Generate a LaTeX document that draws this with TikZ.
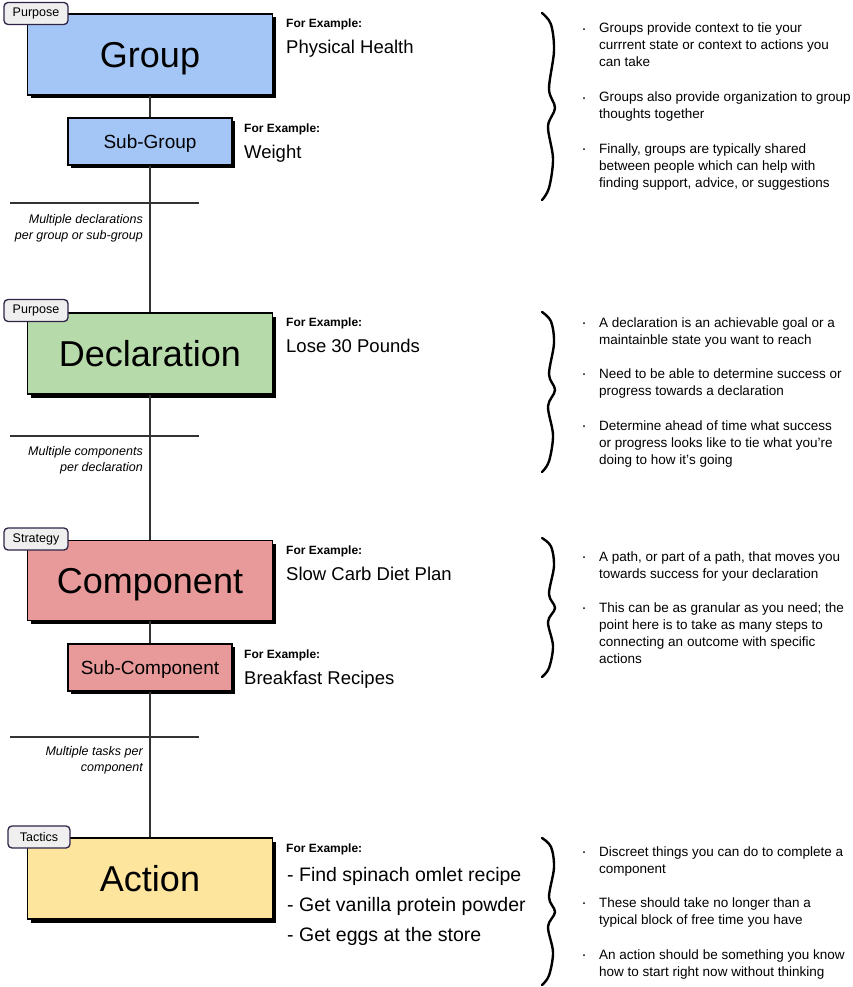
\documentclass[tikz,border=0pt]{standalone}
\usepackage{fontspec}
\setmainfont{Liberation Sans}
\usetikzlibrary{shadows}
\definecolor{cgroup}{HTML}{A4C6F6}
\definecolor{cdecl}{HTML}{B7DAAA}
\definecolor{ccomp}{HTML}{E89A9A}
\definecolor{cact}{HTML}{FDE59D}
\definecolor{tagfill}{HTML}{EFEFEF}
\definecolor{tagline}{HTML}{2F2346}
\definecolor{conn}{HTML}{333333}
\newcommand\mybrace[3]{%
 \pgfmathsetmacro\brA{#2-#1}\pgfmathsetmacro\brB{#3-#2}%
 \draw[bracel] plot[smooth,tension=0.55] coordinates {(542,#1) (551,{#1+0.12*\brA}) (554,{#1+0.4*\brA}) (549,{#1+0.8*\brA}) (555,#2) (548,{#2+0.2*\brB}) (553,{#2+0.55*\brB}) (549,{#2+0.87*\brB}) (542,#3)};}
% name, first baseline, number of lines, text
\newcommand\mybul[4]{%
 \fill (584,#2-3.8) circle (1);
 \node[bt, anchor=base west] (#1) at (599,{#2+(#3-1)*17}) {#4};}
\begin{document}
\begin{tikzpicture}[x=1pt,y=-1pt,
  bigbox/.style={draw=black, line width=1.8pt, minimum width=245pt, minimum height=81pt, inner sep=0pt,
    drop shadow={shadow xshift=3.5pt, shadow yshift=-3.5pt, fill=black, opacity=1},
    font=\fontsize{36}{40}\selectfont, text height=25.8pt, text depth=0pt},
  smallbox/.style={draw=black, line width=1.6pt, minimum width=164pt, minimum height=47pt, inner sep=0pt,
    drop shadow={shadow xshift=3pt, shadow yshift=-3pt, fill=black, opacity=1},
    font=\fontsize{19}{22}\selectfont, text height=13.6pt, text depth=0pt},
  tagbox/.style={draw=tagline, fill=tagfill, line width=1.3pt, rounded corners=4pt, minimum width=64pt,
    minimum height=22pt, inner sep=0pt, font=\fontsize{12.5}{14}\selectfont},
  fe/.style={inner sep=0pt, font=\bfseries\fontsize{12}{14}\selectfont},
  val/.style={inner sep=0pt, font=\fontsize{18.5}{22}\selectfont},
  bt/.style={inner sep=0pt, align=left, font=\fontsize{13.5}{17}\selectfont},
  ann/.style={inner sep=0pt, align=right, font=\itshape\fontsize{12.5}{16}\selectfont},
  connector/.style={draw=conn, line width=1.4pt},
  sepline/.style={draw=conn, line width=1.2pt},
  bracel/.style={draw=black, line width=2.4pt, line cap=round}
]
\useasboundingbox (0,0) rectangle (853,987);

% boxes
\node[bigbox, fill=cgroup] (group) at (150,54.5) {Group};
\node[smallbox, fill=cgroup] (subgroup) at (150,141.5) {Sub-Group};
\node[bigbox, fill=cdecl] (decl) at (150,353.5) {Declaration};
\node[bigbox, fill=ccomp, minimum height=80pt] (comp) at (150,580.5) {Component};
\node[smallbox, fill=ccomp] (subcomp) at (150,667.5) {Sub-Component};
\node[bigbox, fill=cact] (action) at (150,878.5) {Action};

% connectors
\draw[connector] (group.south) -- (subgroup.north);
\draw[connector] (subgroup.south) -- (decl.north);
\draw[connector] (decl.south) -- (comp.north);
\draw[connector] (comp.south) -- (subcomp.north);
\draw[connector] (subcomp.south) -- (action.north);

% tags
\node[tagbox] (tag1) at (36,13.5) {Purpose};
\node[tagbox] (tag2) at (36,310.5) {Purpose};
\node[tagbox] (tag3) at (36,539) {Strategy};
\node[tagbox, minimum width=62pt] (tag4) at (39,837) {Tactics};

% separators and annotations
\draw[sepline] (10,203) -- (199,203);
\node[ann, anchor=base east] (ann1) at (143,239) {Multiple declarations\\per group or sub-group};
\draw[sepline] (10,436) -- (199,436);
\node[ann, anchor=base east] (ann2) at (143,471) {Multiple components\\per declaration};
\draw[sepline] (10,737) -- (199,737);
\node[ann, anchor=base east] (ann3) at (143,771) {Multiple tasks per\\component};

% examples
\node[fe, anchor=base west] (fe1) at (286,28) {For Example:};
\node[val, anchor=base west] (v1) at (286,54) {Physical Health};
\node[fe, anchor=base west] (fe2) at (244,133) {For Example:};
\node[val, anchor=base west] (v2) at (244,159) {Weight};
\node[fe, anchor=base west] (fe3) at (286,326) {For Example:};
\node[val, anchor=base west] (v3) at (286,352) {Lose 30 Pounds};
\node[fe, anchor=base west] (fe4) at (286,554) {For Example:};
\node[val, anchor=base west] (v4) at (286,580) {Slow Carb Diet Plan};
\node[fe, anchor=base west] (fe5) at (244,658) {For Example:};
\node[val, anchor=base west] (v5) at (244,684) {Breakfast Recipes};
\node[fe, anchor=base west] (fe6) at (286,852) {For Example:};
\node[val, anchor=base west, align=left, font=\fontsize{19.5}{30}\selectfont] (v6) at (287,941)
  {- Find spinach omlet recipe\\- Get vanilla protein powder\\- Get eggs at the store};

% braces
\mybrace{13}{108}{200}
\mybrace{312}{390}{472}
\mybrace{538}{608}{677}
\mybrace{838}{912}{985}

% bullets
\mybul{b1}{33}{3}{Groups provide context to tie your\\currrent state or context to actions you\\can take}
\mybul{b2}{102}{2}{Groups also provide organization to group\\thoughts together}
\mybul{b3}{153}{3}{Finally, groups are typically shared\\between people which can help with\\finding support, advice, or suggestions}
\mybul{b4}{327}{2}{A declaration is an achievable goal or a\\maintainble state you want to reach}
\mybul{b5}{378}{2}{Need to be able to determine success or\\progress towards a declaration}
\mybul{b6}{430}{3}{Determine ahead of time what success\\or progress looks like to tie what you're\\doing to how it's going}
\mybul{b7}{561}{2}{A path, or part of a path, that moves you\\towards success for your declaration}
\mybul{b8}{612}{4}{This can be as granular as you need; the\\point here is to take as many steps to\\connecting an outcome with specific\\actions}
\mybul{b9}{856}{2}{Discreet things you can do to complete a\\component}
\mybul{b10}{907}{2}{These should take no longer than a\\typical block of free time you have}
\mybul{b11}{959}{2}{An action should be something you know\\how to start right now without thinking}
\end{tikzpicture}
\end{document}
